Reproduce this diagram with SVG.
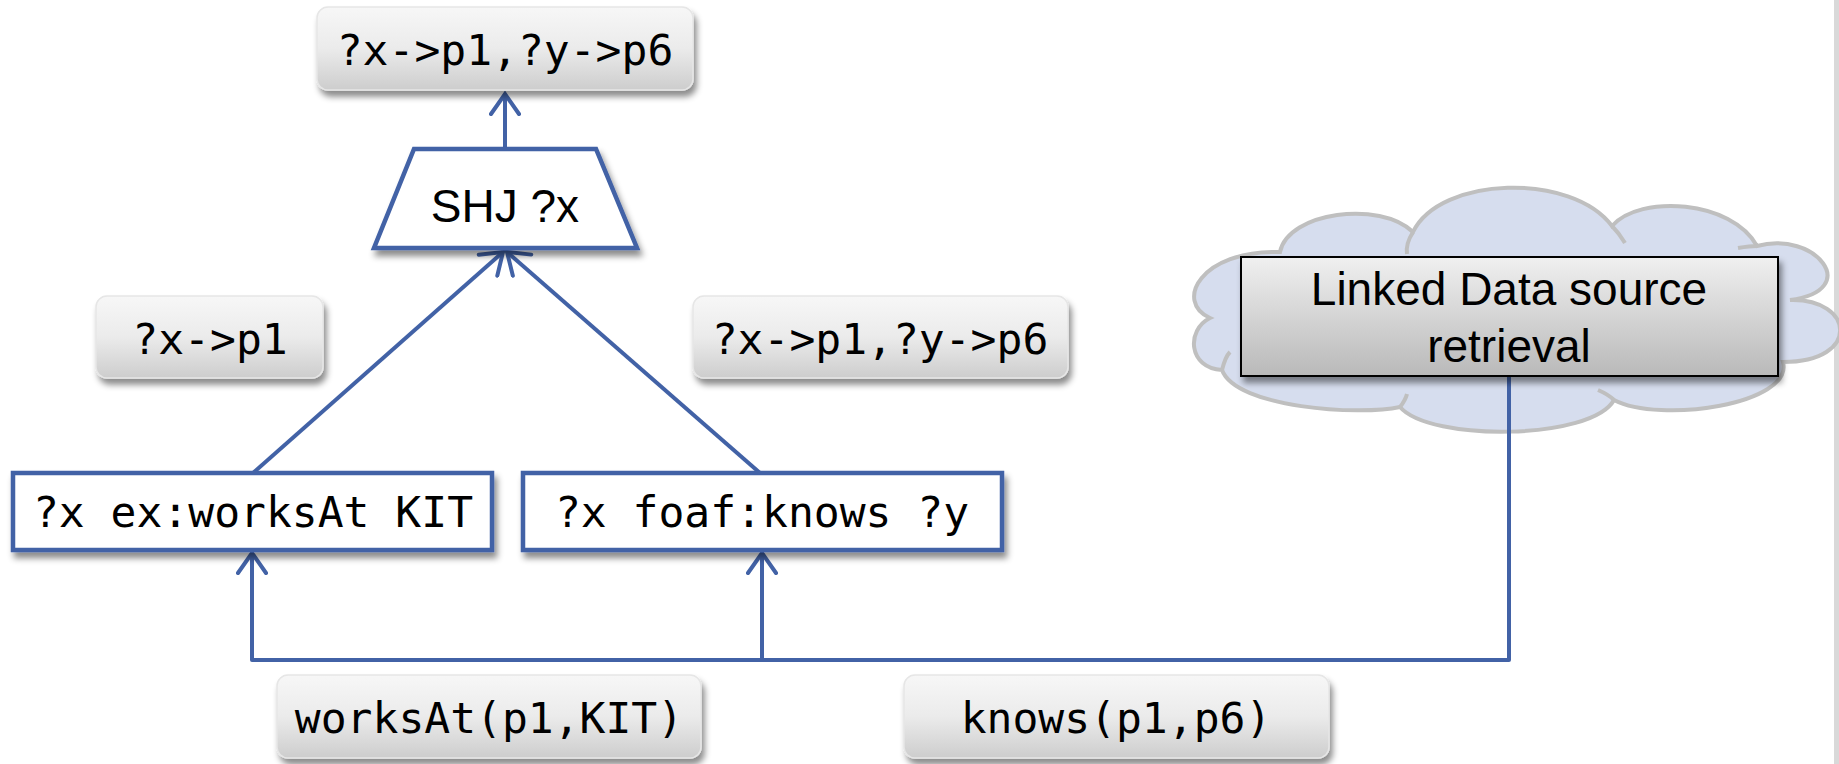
<svg xmlns="http://www.w3.org/2000/svg" width="1839" height="764" viewBox="0 0 1839 764">
<style>
.mono{font-family:"DejaVu Sans Mono","Liberation Mono",monospace;font-size:43px;fill:#000;text-anchor:middle}
.sans{font-family:"Liberation Sans",Arial,sans-serif;font-size:46px;fill:#000;text-anchor:middle}
.gbox{fill:url(#gGray);stroke:#e6e6e6;stroke-width:1.5;filter:url(#sh)}
.qbox{fill:#fff;stroke:#4262a6;stroke-width:4.5;filter:url(#sh)}
.conn{fill:none;stroke:#4262a6;stroke-width:4;stroke-linejoin:round}
.cl{fill:none;stroke:#bfbfbf;stroke-width:4}
</style>
<defs>
<linearGradient id="gGray" x1="0" y1="0" x2="0" y2="1">
<stop offset="0" stop-color="#f7f7f7"/>
<stop offset="0.5" stop-color="#ebebeb"/>
<stop offset="1" stop-color="#cdcdcd"/>
</linearGradient>
<linearGradient id="gLD" x1="0" y1="0" x2="0" y2="1">
<stop offset="0" stop-color="#f0f0f0"/>
<stop offset="1" stop-color="#b9b9b9"/>
</linearGradient>
<filter id="sh" x="-10%" y="-20%" width="125%" height="150%">
<feDropShadow dx="3" dy="6" stdDeviation="3" flood-color="#000" flood-opacity="0.45"/>
</filter>
<marker id="arr" viewBox="-24 -16 28 32" refX="0" refY="0" markerWidth="28" markerHeight="32" markerUnits="userSpaceOnUse" orient="auto">
<path d="M -20 -14 L 0 0 L -20 14" fill="none" stroke="#4262a6" stroke-width="4" stroke-linecap="round" stroke-linejoin="miter"/>
</marker>
</defs>
<rect x="0" y="0" width="1839" height="764" fill="#fff"/>
<rect x="1834" y="0" width="5" height="764" fill="#d9d9d9"/>

<g id="cloud">
<path d="M 1210 318 C 1174 302, 1200 250, 1280 252 C 1288 212, 1380 200, 1413 232 C 1440 176, 1572 172, 1612 226 C 1640 194, 1732 200, 1757 246 C 1815 230, 1864 290, 1790 300 C 1854 298, 1862 362, 1783 362 C 1794 404, 1660 424, 1614 400 C 1592 440, 1430 442, 1400 407 C 1360 416, 1236 408, 1222 370 C 1188 368, 1186 330, 1210 318 Z" fill="#d6ddee" stroke="#bfbfbf" stroke-width="4"/>
<path class="cl" d="M 1413 232 C 1408 240, 1406 248, 1407 254"/>
<path class="cl" d="M 1612 226 C 1618 232, 1622 238, 1625 243"/>
<path class="cl" d="M 1757 246 C 1750 246, 1744 247, 1738 248"/>
<path class="cl" d="M 1614 400 C 1610 396, 1605 393, 1598 390"/>
<path class="cl" d="M 1400 407 C 1404 402, 1406 398, 1407 394"/>
<path class="cl" d="M 1222 370 C 1224 362, 1226 356, 1230 352"/>
</g>

<g id="connectors">
<path class="conn" d="M 505 149 L 505 94" marker-end="url(#arr)"/>
<path class="conn" d="M 253 473 L 503 252" marker-end="url(#arr)"/>
<path class="conn" d="M 760 473 L 507 252" marker-end="url(#arr)"/>
<path class="conn" d="M 1509 376 L 1509 660 L 252 660 L 252 553" marker-end="url(#arr)"/>
<path class="conn" d="M 762 660 L 762 553" marker-end="url(#arr)"/>
</g>

<g id="result-top">
<rect class="gbox" x="317" y="7" width="376" height="83" rx="11"/>
<text class="mono" x="505" y="65">?x-&gt;p1,?y-&gt;p6</text>
</g>

<g id="shj">
<polygon points="414,149 596,149 637,248 374,248" fill="#fff" stroke="#4262a6" stroke-width="4.5" stroke-linejoin="miter" filter="url(#sh)"/>
<text class="sans" x="505" y="222">SHJ ?x</text>
</g>

<g id="binding-left">
<rect class="gbox" x="96" y="296" width="227" height="82" rx="11"/>
<text class="mono" x="210" y="354">?x-&gt;p1</text>
</g>

<g id="binding-right">
<rect class="gbox" x="693" y="296" width="375" height="82" rx="11"/>
<text class="mono" x="880" y="354">?x-&gt;p1,?y-&gt;p6</text>
</g>

<g id="pattern-worksAt">
<rect class="qbox" x="13" y="473" width="479" height="77"/>
<text class="mono" x="253" y="527">?x ex:worksAt KIT</text>
</g>

<g id="pattern-knows">
<rect class="qbox" x="523" y="473" width="479" height="77"/>
<text class="mono" x="762" y="527">?x foaf:knows ?y</text>
</g>

<g id="linked-data">
<rect x="1241" y="257" width="537" height="119" fill="url(#gLD)" stroke="#000" stroke-width="2" filter="url(#sh)"/>
<text class="sans" x="1509" y="305">Linked Data source</text>
<text class="sans" x="1509" y="362">retrieval</text>
</g>

<g id="triple-worksAt">
<rect class="gbox" x="277" y="675" width="424" height="83" rx="11"/>
<text class="mono" x="489" y="733">worksAt(p1,KIT)</text>
</g>

<g id="triple-knows">
<rect class="gbox" x="904" y="675" width="425" height="83" rx="11"/>
<text class="mono" x="1116" y="733">knows(p1,p6)</text>
</g>
</svg>
